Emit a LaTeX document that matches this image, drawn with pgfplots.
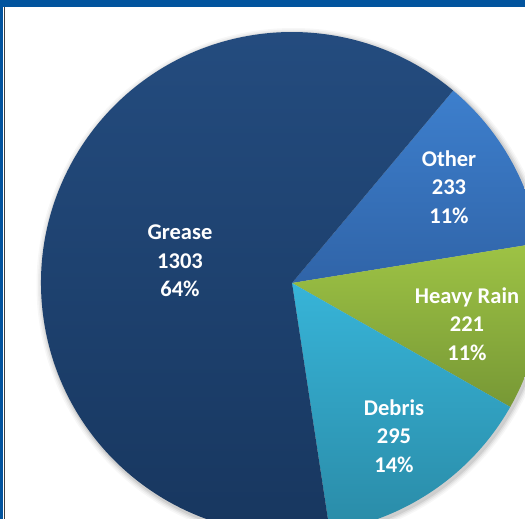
\documentclass[border=0pt]{standalone}
\usepackage{pgfplots}
\pgfplotsset{compat=1.18}
\usepackage{pgfplotstable}
\usepackage{fontspec}
\setmainfont{Carlito}
\definecolor{frameblue}{HTML}{02549E}
\definecolor{greaseT}{HTML}{244C7F}
\definecolor{greaseB}{HTML}{17365E}
\definecolor{otherT}{HTML}{3D7FCD}
\definecolor{otherB}{HTML}{3064A8}
\definecolor{rainT}{HTML}{9EC345}
\definecolor{rainB}{HTML}{779835}
\definecolor{debrisT}{HTML}{37B4D8}
\definecolor{debrisB}{HTML}{2A8BA7}

\pgfplotstableread{
label value
Other 233
{Heavy Rain} 221
Debris 295
Grease 1303
}\piedata

\begin{document}
\begin{tikzpicture}
\pgfplotstablegetelem{0}{value}\of\piedata \let\vA\pgfplotsretval
\pgfplotstablegetelem{1}{value}\of\piedata \let\vB\pgfplotsretval
\pgfplotstablegetelem{2}{value}\of\piedata \let\vC\pgfplotsretval
\pgfplotstablegetelem{3}{value}\of\piedata \let\vD\pgfplotsretval
\pgfmathsetmacro\total{\vA+\vB+\vC+\vD}
\pgfmathsetmacro\aS{50.05}
\pgfmathsetmacro\aA{\aS-360*(\vA/\total)}
\pgfmathsetmacro\aB{\aA-360*(\vB/\total)}
\pgfmathsetmacro\aC{\aB-360*(\vC/\total)}
\pgfmathsetmacro\aD{\aC-360*(\vD/\total)}
\useasboundingbox (0,-519pt) rectangle (525pt,0);
\clip (0,-519pt) rectangle (525pt,0);
\begin{axis}[
  at={(0,0)}, anchor=north west,
  scale only axis, width=525pt, height=519pt,
  xmin=0, xmax=525, ymin=-519, ymax=0,
  hide axis, clip=true,
]
% soft shadow
\foreach \k/\op in {6/0.03,4.5/0.04,3/0.06,1.5/0.08}{
  \edef\tmp{\noexpand\fill[black, opacity=\op] (axis cs:293.5,-285) circle[radius=251+\k];}\tmp
}
% wedges
\shade[top color=otherT, bottom color=otherB] (axis cs:292,-283) -- ++(\aS:251pt) arc[start angle=\aS, end angle=\aA, radius=251pt] -- cycle;
\shade[top color=rainT, bottom color=rainB] (axis cs:292,-283) -- ++(\aA:251pt) arc[start angle=\aA, end angle=\aB, radius=251pt] -- cycle;
\shade[top color=debrisT, bottom color=debrisB] (axis cs:292,-283) -- ++(\aB:251pt) arc[start angle=\aB, end angle=\aC, radius=251pt] -- cycle;
\shade[top color=greaseT, bottom color=greaseB] (axis cs:292,-283) -- ++(\aC:251pt) arc[start angle=\aC, end angle=\aD, radius=251pt] -- cycle;
% labels
\tikzset{lbl/.style={align=center, text=white, font=\fontsize{22.5}{28.5}\selectfont\bfseries}}
\node[lbl] at (axis cs:180,-261) {Grease\\1303\\64\%};
\node[lbl] at (axis cs:449,-187) {Other\\233\\11\%};
\node[lbl] at (axis cs:467,-324) {Heavy Rain\\221\\11\%};
\node[lbl] at (axis cs:394,-436) {Debris\\295\\14\%};
% frame
\fill[frameblue] (axis cs:0,0) rectangle (axis cs:525,-7);
\fill[frameblue] (axis cs:0,0) rectangle (axis cs:3,-519);
\fill[black!75] (axis cs:4,-7) rectangle (axis cs:5.2,-519);
\end{axis}
\end{tikzpicture}
\end{document}
